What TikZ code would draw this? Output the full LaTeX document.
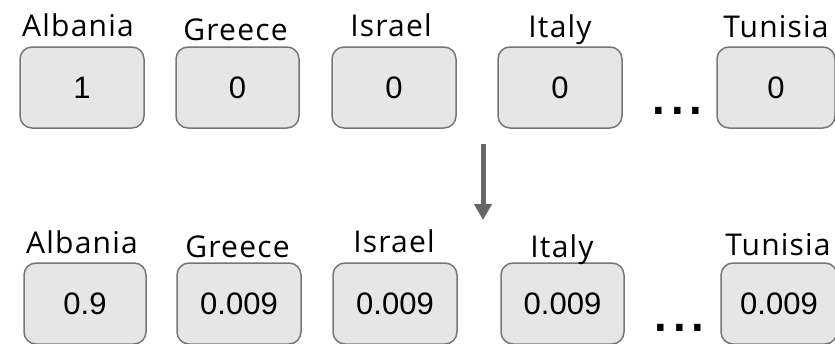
\documentclass[tikz,border=0pt]{standalone}
\usepackage{fontspec}
\setmainfont{Open Sans}[LetterSpace=4]
\newfontfamily\numfont{Liberation Sans}
\usetikzlibrary{arrows.meta}
\definecolor{boxline}{HTML}{767676}
\definecolor{boxfill}{HTML}{E6E6E6}
\definecolor{arrowgray}{HTML}{666666}
\tikzset{
  cell/.style={draw=boxline, fill=boxfill, line width=1.5pt, rounded corners=12pt,
    minimum height=81pt, inner sep=0pt, font=\numfont\fontsize{31}{36}\selectfont},
  lbl/.style={anchor=base, inner sep=0pt, font=\fontsize{30}{36}\selectfont},
  dotrow/.style={anchor=base west, inner sep=0pt, text height=7pt, text depth=0pt,
    font=\numfont\fontsize{67}{67}\selectfont},
  flow/.style={draw=arrowgray, line width=5pt, -{Triangle[width=17pt,length=16pt]}, fill=arrowgray}
}
\begin{document}
\begin{tikzpicture}[x=1pt,y=-1pt]
\useasboundingbox (0,0) rectangle (835,343);
\clip (0,0) rectangle (835,343);
% top row
\node[cell, minimum width=124pt] (a1) at (82,87.5) {1};
\node[cell, minimum width=123pt] (g1) at (237.5,87.5) {0};
\node[cell, minimum width=124pt] (i1) at (394,87.5) {0};
\node[cell, minimum width=124pt] (t1) at (560,87.5) {0};
\node[cell, minimum width=118pt] (u1) at (776,87.5) {0};
\node[lbl] (la1) at (78,36) {Albania};
\node[lbl] (lg1) at (235.5,40) {Greece};
\node[lbl] (li1) at (391,36) {Israel};
\node[lbl] (lt1) at (560,37) {Italy};
\node[lbl] (lu1) at (776,37) {Tunisia};
\node[dotrow] (d1) at (649.5,114) {...};
% arrow
\coordinate (s) at (483,144);
\coordinate (e) at (483,220);
\draw[flow] (s) -- (e);
% bottom row
\node[cell, minimum width=122pt] (a2) at (85,303.5) {0.9};
\node[cell, minimum width=124pt] (g2) at (239,303.5) {0.009};
\node[cell, minimum width=124pt] (i2) at (395,303.5) {0.009};
\node[cell, minimum width=123pt] (t2) at (562.5,303.5) {0.009};
\node[cell, minimum width=116pt] (u2) at (779,303.5) {0.009};
\node[lbl] (la2) at (82,253) {Albania};
\node[lbl] (lg2) at (237.5,257) {Greece};
\node[lbl] (li2) at (394,252) {Israel};
\node[lbl] (lt2) at (562,257) {Italy};
\node[lbl] (lu2) at (778,255) {Tunisia};
\node[dotrow] (d2) at (651.5,331) {...};
\end{tikzpicture}
\end{document}
